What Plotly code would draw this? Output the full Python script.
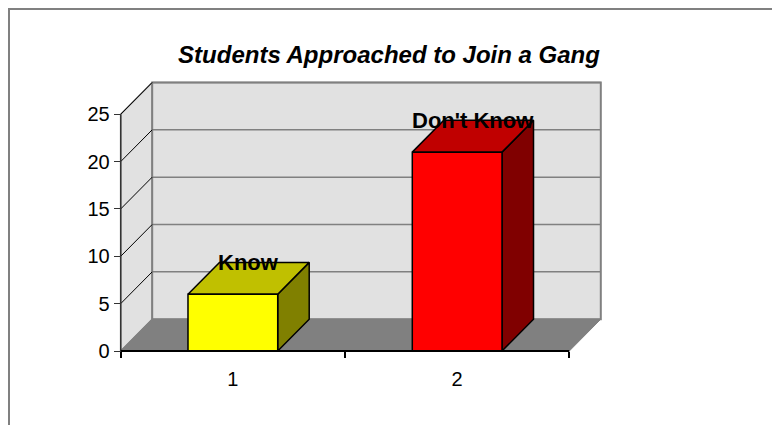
import plotly.graph_objects as go

# ---- data ----
categories = [1, 2]
category_labels = ["1", "2"]
series_names = ["Know", "Don't Know"]
values = [6, 21]
y_ticks = [0, 5, 10, 15, 20, 25]
title_text = "Students Approached to Join a Gang"

front_colors = ["#FFFF00", "#FF0000"]
top_colors = ["#C0C000", "#C00000"]
side_colors = ["#808000", "#800000"]

# ---- geometry (style constants) ----
OFF = 8                   # page body margin
W, H = 780 - OFF, 425 - OFF
PX_PER_X = 224.3
PX_PER_Y = 9.47
X0_PX, Y0_PX = 120.7 - OFF, 351.0 - OFF
DX = 31.5 / PX_PER_X      # depth offset in x units
DY = 31.8 / PX_PER_Y      # depth offset in y units
HALF = 0.2                # bar half width
XMIN, XMAX = 0.5, len(categories) + 0.5
YMAX = y_ticks[-1]

xr = [0.5 - X0_PX / PX_PER_X, 0.5 + (W - X0_PX) / PX_PER_X]
yr = [-(H - Y0_PX) / PX_PER_Y, Y0_PX / PX_PER_Y]

FONT = "Liberation Sans, Arial, sans-serif"

fig = go.Figure()


def poly(xs, ys, fill, line_color="black", lw=1.5):
    fig.add_trace(go.Scatter(
        x=xs + [xs[0]], y=ys + [ys[0]], mode="lines", fill="toself",
        fillcolor=fill, line=dict(color=line_color, width=lw),
        hoverinfo="skip", showlegend=False))


def seg(xs, ys, color, lw):
    fig.add_trace(go.Scatter(
        x=xs, y=ys, mode="lines", line=dict(color=color, width=lw),
        hoverinfo="skip", showlegend=False))


WALL = "#E1E1E1"
GRAY = "#808080"

# left side wall
poly([XMIN, XMIN + DX, XMIN + DX, XMIN], [0, DY, YMAX + DY, YMAX], WALL, GRAY, 1.5)
# back wall
poly([XMIN + DX, XMAX + DX, XMAX + DX, XMIN + DX], [DY, DY, YMAX + DY, YMAX + DY], WALL, GRAY, 2)
# floor
poly([XMIN, XMAX, XMAX + DX, XMIN + DX], [0, 0, DY, DY], GRAY, GRAY, 1)

# gridlines on back wall & diagonals on side wall
for t in y_ticks[1:]:
    seg([XMIN + DX, XMAX + DX], [t + DY, t + DY], GRAY, 1.5)
    seg([XMIN, XMIN + DX], [t, t + DY], "black", 1)

# bars
for c, v, fc, tc, sc in zip(categories, values, front_colors, top_colors, side_colors):
    l, r = c - HALF, c + HALF
    poly([r, r + DX, r + DX, r], [0, DY, v + DY, v], sc)
    poly([l, r, r + DX, l + DX], [v, v, v + DY, v + DY], tc)
    poly([l, r, r, l], [0, 0, v, v], fc)

# front axis lines
seg([XMIN, XMIN], [0, YMAX], "#333333", 1.5)
seg([XMIN, XMAX], [0, 0], "black", 2)

# boundary ticks axis (invisible trace to create it)
bounds = [c - 0.5 for c in categories] + [categories[-1] + 0.5]
fig.add_trace(go.Scatter(x=[bounds[0]], y=[0], xaxis="x2", mode="markers",
                         marker=dict(opacity=0), hoverinfo="skip", showlegend=False))

# data labels (series names)
for c, v, name in zip(categories, values, series_names):
    fig.add_annotation(x=c + DX / 2, y=v + DY, text=name, showarrow=False,
                       xanchor="center", yanchor="middle",
                       font=dict(family=FONT, size=22, color="black", weight="bold"))

# outer chart border (left and top edges only are visible)
fig.add_shape(type="path", xref="paper", yref="paper",
              path=f"M {1 / W},0 L {1 / W},{1 - 1 / H} L 1,{1 - 1 / H}",
              line=dict(color=GRAY, width=2), layer="below")

ypos_axis = (H - Y0_PX) / H
fig.update_layout(
    width=W, height=H, margin=dict(l=0, r=0, t=0, b=0),
    paper_bgcolor="white", plot_bgcolor="white",
    title=dict(text=title_text, x=(389 - OFF) / W, xanchor="center",
               y=1 - (55 - OFF) / H, yanchor="middle",
               font=dict(family=FONT, size=24, color="black", weight="bold", style="italic")),
    xaxis=dict(range=xr, showgrid=False, zeroline=False, showline=False,
               anchor="free", position=ypos_axis,
               tickvals=categories, ticktext=category_labels, ticks="outside",
               ticklen=10, tickcolor="rgba(0,0,0,0)",
               tickfont=dict(family=FONT, size=20, color="black")),
    xaxis2=dict(range=xr, overlaying="x", showgrid=False, zeroline=False, showline=False,
                anchor="free", position=ypos_axis, tickvals=bounds, ticks="outside",
                ticklen=6, tickwidth=1.5, tickcolor="black", showticklabels=False),
    yaxis=dict(range=yr, showgrid=False, zeroline=False, showline=False,
               anchor="free", position=X0_PX / W,
               tickvals=y_ticks, ticks="outside", ticklen=7, tickwidth=1, tickcolor="#333333",
               tickfont=dict(family=FONT, size=20, color="black")),
    showlegend=False,
)

fig.write_html("out.html")
